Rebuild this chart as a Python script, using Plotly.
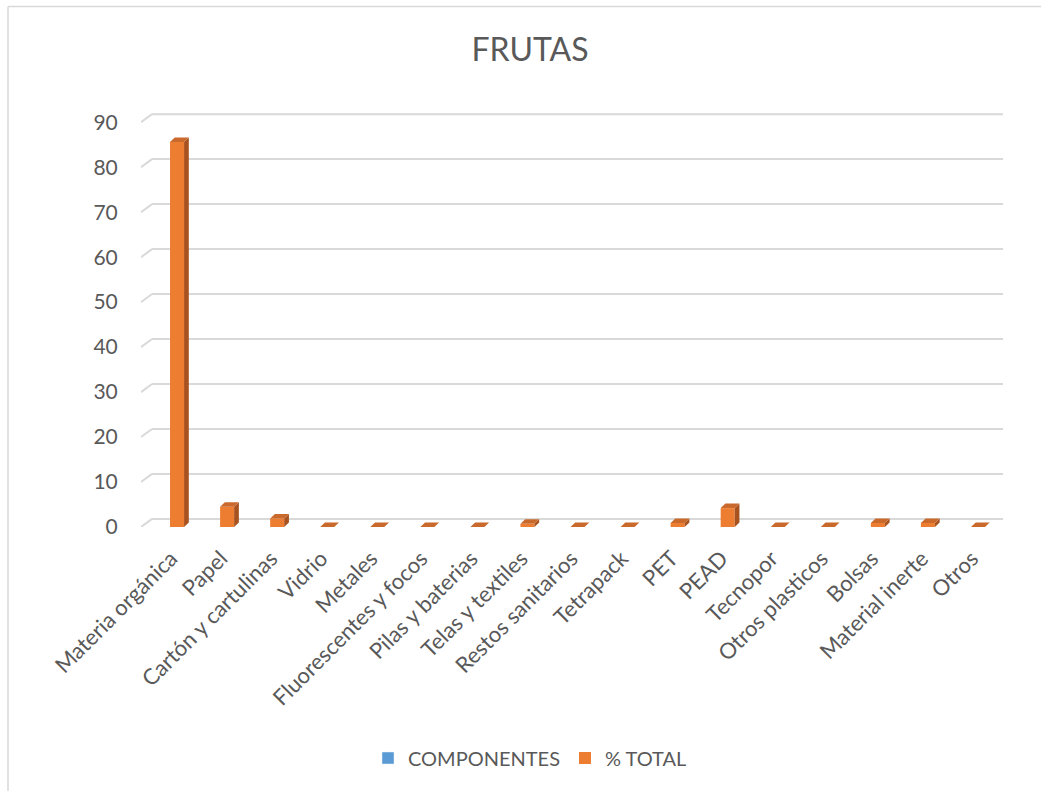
import plotly.graph_objects as go

# Waste composition for the FRUTAS sample (% of total)
categorias = [
    "Materia orgánica", "Papel", "Cartón y cartulinas", "Vidrio", "Metales",
    "Fluorescentes y focos", "Pilas y baterias", "Telas y textiles",
    "Restos sanitarios", "Tetrapack", "PET", "PEAD", "Tecnopor",
    "Otros plasticos", "Bolsas", "Material inerte", "Otros",
]
pct_total = [85.6, 4.5, 1.9, 0, 0, 0, 0, 0.7, 0, 0, 0.9, 4.2, 0, 0, 0.9, 0.9, 0]
componentes = [None] * len(categorias)
y_ticks = [0, 10, 20, 30, 40, 50, 60, 70, 80, 90]

W, H = 1041, 791
ML, MR, MT, MB = 141, 38, 111, 264
X_RANGE = [-0.72, 16.5]
Y_RANGE = [0, 92.5]

FONT = "Lato"
GREY = "#595959"
ORANGE = "#ED7D31"
ORANGE_SIDE = "#A8531F"
ORANGE_TOP = "#C9692B"
BLUE = "#5B9BD5"
GRID = "#D9D9D9"

# pseudo-3D geometry (data units)
BAR_W = 0.28      # front face width
DEPTH_X = 0.095   # side face horizontal shift
DEPTH_Y = 1.0     # top face vertical shift
WALL_Y = 1.8      # back-wall offset of gridlines
WALL_X = 0.22

pos = list(range(len(categorias)))

fig = go.Figure()
fig.add_trace(go.Bar(
    x=pos, y=componentes, name="COMPONENTES", marker_color=BLUE, width=BAR_W,
))
fig.add_trace(go.Bar(
    x=pos, y=pct_total, name="% TOTAL", marker_color=ORANGE, width=BAR_W,
    marker_line_width=0,
))

shapes = []
# back-wall gridlines with their short diagonal from the front edge
x_wall = X_RANGE[0] + WALL_X
for t in y_ticks:
    shapes.append(dict(type="line", xref="x", yref="y", layer="below",
                       x0=X_RANGE[0], y0=t, x1=x_wall, y1=t + WALL_Y,
                       line=dict(color=GRID, width=2)))
    shapes.append(dict(type="line", xref="x", yref="y", layer="below",
                       x0=x_wall, y0=t + WALL_Y, x1=X_RANGE[1], y1=t + WALL_Y,
                       line=dict(color=GRID, width=2)))

# side and top faces of each column
for p, v in zip(pos, pct_total):
    xl, xr = p - BAR_W / 2, p + BAR_W / 2
    side = (f"M {xr} 0 L {xr + DEPTH_X} {DEPTH_Y} L {xr + DEPTH_X} {v + DEPTH_Y} "
            f"L {xr} {v} Z")
    top = (f"M {xl} {v} L {xl + DEPTH_X} {v + DEPTH_Y} L {xr + DEPTH_X} {v + DEPTH_Y} "
           f"L {xr} {v} Z")
    shapes.append(dict(type="path", xref="x", yref="y", path=side,
                       fillcolor=ORANGE_SIDE, line=dict(width=0)))
    shapes.append(dict(type="path", xref="x", yref="y", path=top,
                       fillcolor=ORANGE_TOP, line=dict(width=0)))

# chart-area border (top and left edges)
pw, ph = W - ML - MR, H - MT - MB
def px_x(px):
    return (px - ML) / pw
def px_y(py):
    return (H - MB - py) / ph
shapes.append(dict(type="line", xref="paper", yref="paper",
                   x0=px_x(8), y0=px_y(6.5), x1=px_x(1045), y1=px_y(6.5),
                   line=dict(color=GRID, width=1.5)))
shapes.append(dict(type="line", xref="paper", yref="paper",
                   x0=px_x(8), y0=px_y(6.5), x1=px_x(8), y1=px_y(800),
                   line=dict(color=GRID, width=1.5)))

fig.update_layout(
    width=W, height=H,
    margin=dict(l=ML, r=MR, t=MT, b=MB, pad=0),
    paper_bgcolor="white", plot_bgcolor="white",
    font=dict(family=FONT, color=GREY),
    barmode="overlay",
    title=dict(text="FRUTAS", font=dict(size=32, color=GREY, family=FONT),
               xref="container", yref="container",
               x=530 / W, y=1 - 50 / H, xanchor="center", yanchor="middle"),
    showlegend=True,
    legend=dict(orientation="h", xref="container", yref="container",
                x=530 / W, y=1 - 758 / H, xanchor="center", yanchor="middle",
                font=dict(size=20, color=GREY, family=FONT),
                itemwidth=30, traceorder="normal"),
    shapes=shapes,
)
fig.update_xaxes(
    range=X_RANGE, tickmode="array", tickvals=pos, ticktext=categorias,
    tickangle=-45, tickfont=dict(size=22, color=GREY, family=FONT),
    showgrid=False, zeroline=False, showline=False,
    ticks="outside", ticklen=9, tickcolor="rgba(0,0,0,0)",
    ticklabelshift=-6,
)
fig.update_yaxes(
    range=Y_RANGE, tickmode="array", tickvals=y_ticks,
    tickfont=dict(size=21, color=GREY, family=FONT),
    showgrid=False, zeroline=False, showline=False,
    ticks="outside", ticklen=18, tickcolor="rgba(0,0,0,0)",
)

fig.write_html("out.html")
